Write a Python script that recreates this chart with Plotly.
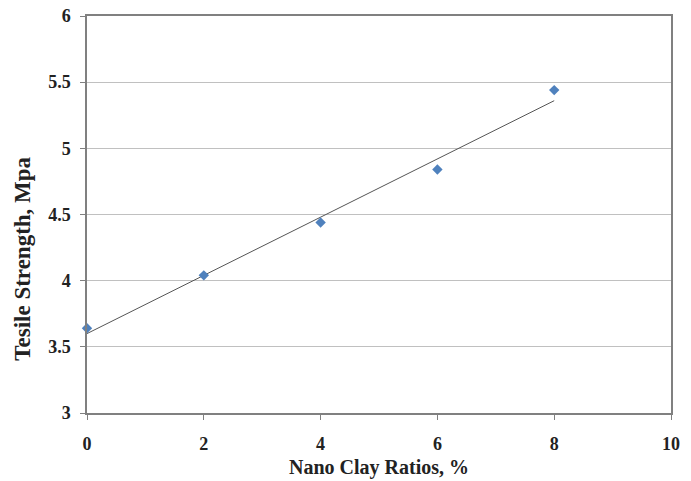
import numpy as np
import plotly.graph_objects as go

clay_ratio = [0, 2, 4, 6, 8]
tensile_strength = [3.64, 4.04, 4.44, 4.84, 5.44]

x_title = "Nano Clay Ratios, %"
y_title = "Tesile Strength, Mpa"

slope, intercept = np.polyfit(clay_ratio, tensile_strength, 1)
trend_x = [min(clay_ratio), max(clay_ratio)]
trend_y = [intercept + slope * x for x in trend_x]

font = "Liberation Serif, Times New Roman, serif"

fig = go.Figure()
fig.add_trace(go.Scatter(x=trend_x, y=trend_y, mode="lines",
                         line=dict(color="#555555", width=1), showlegend=False,
                         hoverinfo="skip"))
fig.add_trace(go.Scatter(x=clay_ratio, y=tensile_strength, mode="markers",
                         marker=dict(symbol="diamond", size=8, color="#4F81BD"),
                         showlegend=False, cliponaxis=False))

fig.update_layout(
    width=691, height=481,
    margin=dict(l=87, r=20, t=16, b=68, autoexpand=False),
    paper_bgcolor="white", plot_bgcolor="white",
    font=dict(family=font, size=18, color="#222222"),
    annotations=[
        dict(text="<b>" + x_title + "</b>", xref="paper", yref="paper",
             x=0.5, y=-0.1385, xanchor="center", yanchor="middle", showarrow=False,
             font=dict(family=font, size=20, color="#222222")),
        dict(text="<b>" + y_title + "</b>", xref="paper", yref="paper",
             x=-0.11, y=0.388, xanchor="center", yanchor="middle", showarrow=False,
             textangle=-90, font=dict(family=font, size=23, color="#222222")),
    ],
)
fig.update_xaxes(
    range=[0, 10], tickvals=[0, 2, 4, 6, 8, 10],
    showgrid=False, zeroline=False,
    showline=True, linecolor="#808080", linewidth=1.5, mirror=True,
    ticks="outside", ticklen=5, tickcolor="#808080",
    ticklabelstandoff=9, ticklabeloverflow="allow",
    tickfont=dict(family=font, size=18, weight="bold"),
)
fig.update_yaxes(
    range=[3, 6], tickvals=[3, 3.5, 4, 4.5, 5, 5.5, 6],
    showgrid=True, gridcolor="#C0C0C0", gridwidth=1, zeroline=False,
    showline=True, linecolor="#808080", linewidth=1.5, mirror=True,
    ticks="outside", ticklen=5, tickcolor="#808080",
    ticklabelstandoff=6, ticklabeloverflow="allow",
    tickfont=dict(family=font, size=18, weight="bold"),
)
fig.write_html("out.html", config={"displayModeBar": False},
               post_script="document.body.style.margin='0';")
